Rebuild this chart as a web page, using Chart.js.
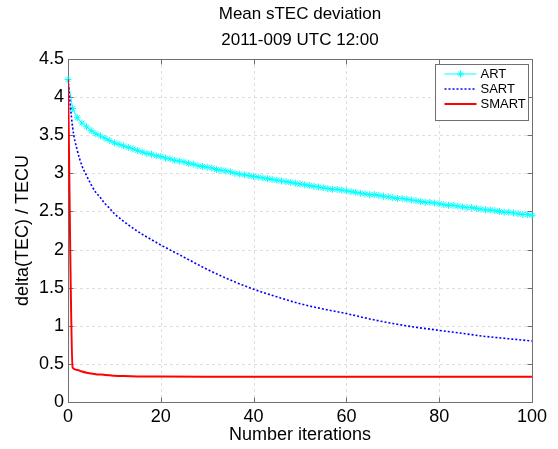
<!DOCTYPE html>
<html>
<head>
<meta charset="utf-8">
<title>Mean sTEC deviation</title>
<script src="https://cdn.jsdelivr.net/npm/chart.js@4.4.1/dist/chart.umd.min.js"></script>
<style>
  html, body { margin: 0; padding: 0; background: #fff; }
</style>
</head>
<body>
<canvas id="grafico" width="558" height="449"></canvas>
<script>
// valores de desviacion media por iteracion (TECU)
const tituloLineas = ["Mean sTEC deviation", "2011-009 UTC 12:00"];
const nombres = ["ART", "SART", "SMART"];

// ART: un valor por iteracion 0..100 (lleva marcador en cada punto)
const artValores = [
  4.23, 3.85, 3.73, 3.66, 3.61, 3.56, 3.52, 3.49, 3.46, 3.43,
  3.40, 3.38, 3.36, 3.34, 3.32, 3.30, 3.28, 3.26, 3.25, 3.23,
  3.22, 3.20, 3.19, 3.17, 3.16, 3.15, 3.13, 3.12, 3.10, 3.09,
  3.08, 3.07, 3.05, 3.04, 3.03, 3.02, 3.00, 2.99, 2.98, 2.97,
  2.96, 2.95, 2.94, 2.93, 2.92, 2.91, 2.90, 2.89, 2.88, 2.87,
  2.86, 2.85, 2.84, 2.83, 2.82, 2.81, 2.80, 2.79, 2.79, 2.78,
  2.77, 2.76, 2.75, 2.74, 2.73, 2.72, 2.72, 2.71, 2.70, 2.69,
  2.68, 2.67, 2.67, 2.66, 2.65, 2.64, 2.63, 2.62, 2.62, 2.61,
  2.60, 2.59, 2.58, 2.58, 2.57, 2.56, 2.55, 2.55, 2.54, 2.53,
  2.52, 2.52, 2.51, 2.50, 2.49, 2.49, 2.48, 2.47, 2.46, 2.46,
  2.45
];

const sartIter = [0, 1, 2, 3, 4, 5, 6, 7, 8, 9, 10, 12, 14, 16, 18, 20, 25, 30, 35, 40, 45, 50, 55, 60, 65, 70, 75, 80, 85, 90, 95, 100];
const sartValores = [4.23, 3.60, 3.30, 3.10, 2.97, 2.85, 2.75, 2.68, 2.60, 2.54, 2.47, 2.37, 2.28, 2.20, 2.13, 2.06, 1.90, 1.74, 1.60, 1.48, 1.38, 1.29, 1.22, 1.16, 1.09, 1.03, 0.98, 0.94, 0.90, 0.86, 0.83, 0.80];

const smartIter = [0, 1, 2, 3, 4, 5, 6, 7, 8, 9, 10, 12, 15, 20, 30, 40, 50, 60, 70, 80, 90, 100];
const smartValores = [4.23, 0.45, 0.42, 0.40, 0.385, 0.375, 0.365, 0.36, 0.355, 0.35, 0.345, 0.34, 0.335, 0.333, 0.331, 0.33, 0.33, 0.33, 0.33, 0.33, 0.33, 0.33];

const xTicks = [0, 20, 40, 60, 80, 100];
const yTicks = [0, 0.5, 1, 1.5, 2, 2.5, 3, 3.5, 4, 4.5];

const FUENTE = 'Arial, "Liberation Sans", Helvetica, sans-serif';
const COLORES = ["#00ffff", "#0000ff", "#ff0000"];

const puntos = (xs, ys) => ys.map((v, i) => ({ x: xs ? xs[i] : i, y: v }));

// rejilla punteada, caja de ejes y marcas hacia dentro (estilo matlab)
const ejesMatlab = {
  id: "ejesMatlab",
  beforeDatasetsDraw(chart) {
    const { ctx, chartArea: a, scales: { x, y } } = chart;
    ctx.save();
    ctx.strokeStyle = "#dedede";
    ctx.lineWidth = 1;
    ctx.setLineDash([3, 3]);
    xTicks.forEach(v => {
      const px = Math.round(x.getPixelForValue(v)) + 0.5;
      ctx.beginPath(); ctx.moveTo(px, a.top); ctx.lineTo(px, a.bottom); ctx.stroke();
    });
    yTicks.forEach(v => {
      const py = Math.round(y.getPixelForValue(v)) + 0.5;
      ctx.beginPath(); ctx.moveTo(a.left, py); ctx.lineTo(a.right, py); ctx.stroke();
    });
    ctx.setLineDash([]);
    ctx.strokeStyle = "#707070";
    const l = Math.round(a.left) + 0.5, r = Math.round(a.right) + 0.5;
    const t = Math.round(a.top) + 0.5, b = Math.round(a.bottom) + 0.5;
    ctx.strokeRect(l, t, r - l, b - t);
    const largo = 5;
    ctx.beginPath();
    xTicks.forEach(v => {
      const px = Math.round(x.getPixelForValue(v)) + 0.5;
      ctx.moveTo(px, b); ctx.lineTo(px, b - largo);
      ctx.moveTo(px, t); ctx.lineTo(px, t + largo);
    });
    yTicks.forEach(v => {
      const py = Math.round(y.getPixelForValue(v)) + 0.5;
      ctx.moveTo(l, py); ctx.lineTo(l + largo, py);
      ctx.moveTo(r, py); ctx.lineTo(r - largo, py);
    });
    ctx.stroke();
    ctx.restore();
  },
  // leyenda en la esquina superior derecha
  afterDraw(chart) {
    const { ctx, chartArea: a } = chart;
    const caja = { x: a.right - 96.5, y: a.top + 5.5, w: 93, h: 56 };
    ctx.save();
    ctx.fillStyle = "#fff";
    ctx.fillRect(caja.x, caja.y, caja.w, caja.h);
    ctx.strokeStyle = "#707070";
    ctx.lineWidth = 1;
    ctx.strokeRect(caja.x, caja.y, caja.w, caja.h);
    ctx.font = "13px " + FUENTE;
    ctx.textBaseline = "middle";
    ctx.textAlign = "left";
    chart.data.datasets.forEach((ds, i) => {
      const yy = caja.y + 9.5 + i * 15;
      const x0 = caja.x + 9, x1 = caja.x + 41;
      ctx.strokeStyle = ds.borderColor;
      ctx.lineWidth = ds.borderWidth;
      ctx.setLineDash(ds.borderDash || []);
      ctx.beginPath(); ctx.moveTo(x0, yy); ctx.lineTo(x1, yy); ctx.stroke();
      ctx.setLineDash([]);
      if (ds.pointRadius > 0) {
        Chart.helpers.drawPoint(ctx, {
          pointStyle: ds.pointStyle, radius: ds.pointRadius, borderWidth: 1
        }, (x0 + x1) / 2, yy);
      }
      ctx.fillStyle = "#000";
      ctx.fillText(ds.label, x1 + 4, yy + 0.5);
    });
    ctx.restore();
  }
};

const grafico = new Chart(document.getElementById("grafico").getContext("2d"), {
  type: "line",
  data: {
    datasets: [
      {
        label: nombres[0],
        data: puntos(null, artValores),
        borderColor: COLORES[0],
        backgroundColor: COLORES[0],
        borderWidth: 1,
        pointStyle: "star",
        pointRadius: 3.5,
        pointBorderColor: COLORES[0],
        pointBorderWidth: 1,
        clip: false,
        order: 2
      },
      {
        label: nombres[1],
        data: puntos(sartIter, sartValores),
        borderColor: COLORES[1],
        borderWidth: 1.6,
        borderDash: [2, 2],
        pointRadius: 0,
        cubicInterpolationMode: "monotone",
        order: 1
      },
      {
        label: nombres[2],
        data: puntos(smartIter, smartValores),
        borderColor: COLORES[2],
        borderWidth: 2,
        pointRadius: 0,
        cubicInterpolationMode: "monotone",
        order: 0
      }
    ]
  },
  options: {
    responsive: false,
    animation: false,
    events: [],
    layout: { padding: { left: 0, right: 26, top: 0, bottom: 0 } },
    plugins: {
      legend: { display: false },
      tooltip: { enabled: false },
      title: {
        display: true,
        text: tituloLineas,
        fullSize: false,
        color: "#000",
        font: { family: FUENTE, size: 17, weight: "normal", lineHeight: 26 / 17 },
        padding: { top: 1, bottom: 6 }
      }
    },
    scales: {
      x: {
        type: "linear",
        min: 0,
        max: 100,
        afterFit(s) { s.height = 47; },
        afterBuildTicks(s) { s.ticks = xTicks.map(v => ({ value: v })); },
        grid: { display: false, drawTicks: false },
        border: { display: false },
        ticks: {
          color: "#000",
          autoSkip: false,
          maxRotation: 0,
          padding: 4,
          font: { family: FUENTE, size: 18 },
          callback: v => String(v)
        },
        title: {
          display: true,
          text: "Number iterations",
          color: "#000",
          font: { family: FUENTE, size: 18 },
          padding: { top: 0, bottom: 3 }
        }
      },
      y: {
        type: "linear",
        min: 0,
        max: 4.5,
        afterFit(s) { s.width = 68; },
        afterBuildTicks(s) { s.ticks = yTicks.map(v => ({ value: v })); },
        grid: { display: false, drawTicks: false },
        border: { display: false },
        ticks: {
          color: "#000",
          autoSkip: false,
          padding: 4,
          font: { family: FUENTE, size: 18 },
          callback: v => String(v)
        },
        title: {
          display: true,
          text: "delta(TEC) / TECU",
          color: "#000",
          font: { family: FUENTE, size: 18 },
          padding: { top: 12, bottom: 0 }
        }
      }
    }
  },
  plugins: [ejesMatlab]
});
</script>
</body>
</html>
